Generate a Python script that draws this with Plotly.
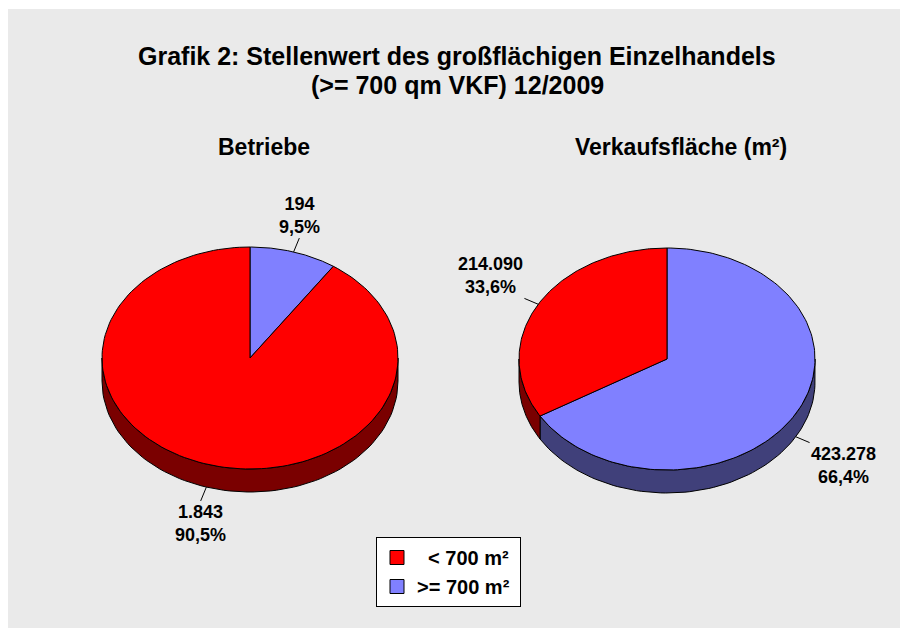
import numpy as np
import plotly.graph_objects as go

# ---------------- data ----------------
categories = ["< 700 m²", ">= 700 m²"]
pie_titles = ["Betriebe", "Verkaufsfläche (m²)"]
betriebe = [1843, 194]
verkaufsflaeche = [214090, 423278]
series = [betriebe, verkaufsflaeche]
title_lines = ["Grafik 2: Stellenwert des großflächigen Einzelhandels",
               "(>= 700 qm VKF) 12/2009"]

face_colors = ["#ff0000", "#8080ff"]
side_colors = ["#7a0000", "#40407a"]
slice_order = [1, 0]  # clockwise from 12 o'clock

# ---------------- layout constants ----------------
OFF = 8                      # page body margin of the html page
W, H = 908 - OFF, 628 - OFF
centers = [(250, 358), (667, 359)]
RX, RY, DEPTH = 148, 111, 23
FONT = "Liberation Sans, Arial, sans-serif"


def de_num(v):
    return f"{v:,}".replace(",", ".")


def de_pct(p):
    return f"{p:.1f}".replace(".", ",") + "%"


def pt(cx, cy, deg, dy=0.0):
    t = np.radians(deg)
    return cx + RX * np.sin(t), cy - RY * np.cos(t) + dy


fig = go.Figure()
annotations = []
side_traces, face_traces, leader_traces = [], [], []

for (cx, cy), vals, title in zip(centers, series, pie_titles):
    total = float(sum(vals))
    start = 0.0
    for idx in slice_order:
        frac = vals[idx] / total
        a, b = start, start + frac * 360.0
        start = b
        # side wall (front half only)
        lo, hi = max(a, 90.0), min(b, 270.0)
        if lo < hi:
            th = np.linspace(lo, hi, 80)
            xt, yt = pt(cx, cy, th)
            xb, yb = pt(cx, cy, th[::-1], DEPTH)
            side_traces.append(go.Scatter(
                x=np.concatenate([xt, xb, xt[:1]]), y=np.concatenate([yt, yb, yt[:1]]),
                mode="lines", fill="toself", fillcolor=side_colors[idx],
                line=dict(color="black", width=1), showlegend=False, hoverinfo="skip"))
        # top face
        th = np.linspace(a, b, 160)
        xs, ys = pt(cx, cy, th)
        face_traces.append(go.Scatter(
            x=np.concatenate([[cx], xs, [cx]]), y=np.concatenate([[cy], ys, [cy]]),
            mode="lines", fill="toself", fillcolor=face_colors[idx],
            line=dict(color="black", width=1), showlegend=False,
            name=categories[idx], hoverinfo="skip"))
        # label + leader
        mid = (a + b) / 2.0
        s, c = np.sin(np.radians(mid)), np.cos(np.radians(mid))
        x0, y0 = pt(cx, cy, mid, DEPTH if c < 0 else 0.0)
        dx, dyv = RX * s, -RY * c
        n = np.hypot(dx, dyv)
        L = 15.0
        x1, y1 = x0 + dx / n * L, y0 + dyv / n * L
        leader_traces.append(go.Scatter(x=[x0, x1], y=[y0, y1], mode="lines",
                                        line=dict(color="black", width=1),
                                        showlegend=False, hoverinfo="skip"))
        if abs(s) < 0.5:
            xa = "center"
        else:
            xa = "left" if s > 0 else "right"
        ya = "bottom" if c > 0 else "top"
        annotations.append(dict(
            x=x1, y=y1, xref="x", yref="y", showarrow=False,
            xanchor=xa, yanchor=ya, align="center", borderpad=0,
            text=f"<b>{de_num(vals[idx])}<br>{de_pct(frac * 100)}</b>",
            font=dict(family=FONT, size=18, color="black")))
    annotations.append(dict(
        x=cx + 14, y=147, xref="x", yref="y", showarrow=False,
        text=f"<b>{title}</b>", font=dict(family=FONT, size=23, color="black")))

for t in side_traces + face_traces + leader_traces:
    fig.add_trace(t)

# legend entries
legend_text = ["\u00a0\u00a0" + categories[0] + "\u00a0", categories[1] + "\u00a0"]
for i in range(2):
    fig.add_trace(go.Scatter(
        x=[None], y=[None], mode="markers", name=legend_text[i],
        marker=dict(symbol="square", size=14, color=face_colors[i],
                    line=dict(color="black", width=1))))

for line, yy in zip(title_lines, [56, 85]):
    annotations.append(dict(
        x=457, y=yy, xref="x", yref="y", showarrow=False,
        text=f"<b>{line}</b>", font=dict(family=FONT, size=25, color="black")))

fig.update_layout(
    width=W, height=H,
    margin=dict(l=0, r=0, t=0, b=0),
    paper_bgcolor="white", plot_bgcolor="rgba(0,0,0,0)",
    xaxis=dict(range=[OFF, OFF + W], visible=False, fixedrange=True),
    yaxis=dict(range=[OFF + H, OFF], visible=False, fixedrange=True),
    shapes=[dict(type="rect", xref="x", yref="y", x0=7, y0=9, x1=OFF + W, y1=OFF + H,
                 fillcolor="#eaeaea", line=dict(width=0), layer="below")],
    annotations=annotations,
    showlegend=True,
    legend=dict(x=(376 - OFF) / W, y=1 - (537 - OFF) / H, xanchor="left", yanchor="top",
                bgcolor="white", bordercolor="black", borderwidth=1,
                font=dict(family=FONT, size=20, color="black", weight="bold"),
                itemclick=False, itemdoubleclick=False,
                tracegroupgap=0),
)

fig.write_html("out.html")
